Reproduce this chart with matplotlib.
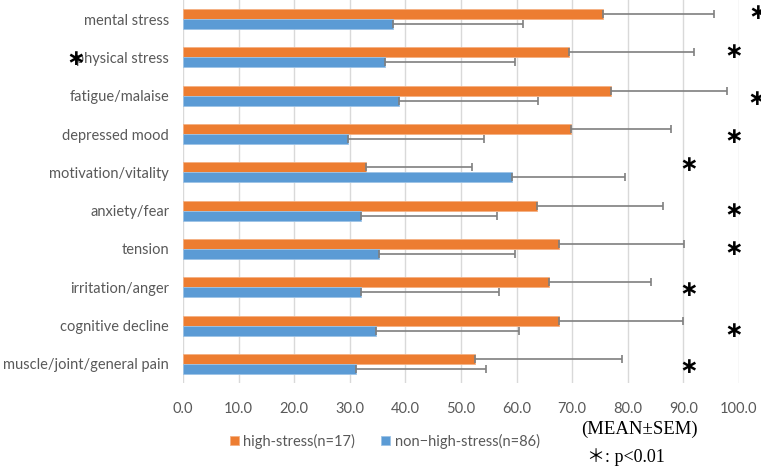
import numpy as np
import matplotlib.pyplot as plt

categories = ["mental stress", "physical stress", "fatigue/malaise", "depressed mood",
              "motivation/vitality", "anxiety/fear", "tension", "irritation/anger",
              "cognitive decline", "muscle/joint/general pain"]
high_mean = [75.5, 69.4, 76.9, 69.8, 32.9, 63.6, 67.6, 65.9, 67.6, 52.5]
high_sem = [20.1, 22.6, 21.0, 18.0, 19.1, 22.8, 22.6, 18.2, 22.4, 26.5]
non_mean = [37.7, 36.4, 38.8, 29.7, 59.2, 32.1, 35.3, 32.0, 34.7, 31.2]
non_sem = [23.4, 23.4, 25.0, 24.5, 20.3, 24.4, 24.5, 24.9, 25.7, 23.3]
xticks = np.arange(0, 101, 10)

# asterisk marks (x in data units, y offset from category centre)
star_x = [103.3, 99.0, 103.1, 99.0, 90.9, 99.0, 99.0, 90.9, 99.0, 90.9]
star_dy = [-0.17, -0.14, 0.08, 0.08, -0.18, 0.0, 0.0, 0.08, 0.13, 0.08]

plt.rcParams['font.family'] = ['Lato', 'DejaVu Sans']

fig = plt.figure(figsize=(7.61, 4.66), dpi=100)
ax = fig.add_axes([0.2405, 0.178, 0.7305, 0.822])

y = np.arange(len(categories))
h = 0.26
err_kw = dict(ecolor='#7f7f7f', elinewidth=1.2, capsize=3, capthick=1.2)
ax.barh(y - h / 2, high_mean, height=h, color='#ED7D31', edgecolor='#F4B183', linewidth=0.6,
        xerr=[np.zeros(len(y)), high_sem], error_kw=err_kw, label='high-stress(n=17)', zorder=3)
ax.barh(y + h / 2, non_mean, height=h, color='#5B9BD5', edgecolor='#9DC3E6', linewidth=0.6,
        xerr=[np.zeros(len(y)), non_sem], error_kw=err_kw, label='non\u2212high-stress(n=86)', zorder=3)

ax.set_ylim(len(categories) - 0.5, -0.5)
ax.set_xlim(0, 100)
ax.set_yticks(y)
ax.set_yticklabels(categories, fontsize=10.5, color='#595959')
ax.set_xticks(xticks)
ax.set_xticklabels(['%.1f' % v for v in xticks], fontsize=10.5, color='#595959')
ax.tick_params(length=0)
ax.tick_params(axis='x', pad=14)
ax.tick_params(axis='y', pad=10)
ax.grid(axis='x', color='#d9d9d9', linewidth=1)
ax.set_axisbelow(True)
for s in ax.spines.values():
    s.set_visible(False)

for i in range(len(categories)):
    ax.text(star_x[i], i + star_dy[i], '\u2217', fontsize=16, fontweight='bold', ha='center',
            va='center', family='DejaVu Sans', clip_on=False)
ax.text(-19.3, 1.05, '\u2217', fontsize=16, fontweight='bold', ha='center', va='center',
        family='DejaVu Sans', clip_on=False)

ax.legend(loc='center', bbox_to_anchor=(0.363, -0.152), ncol=2, frameon=False,
          fontsize=10.5, handlelength=0.6, handleheight=0.6, handletextpad=0.3,
          columnspacing=1.8, labelcolor='#595959')

fig.text(0.763, 0.079, '(MEAN\u00b1SEM)', family='Liberation Serif', fontsize=13.5, va='center')
fig.text(0.771, 0.019, '\uff0a: p<0.01', family=['Liberation Serif', 'Noto Sans CJK JP'],
         fontsize=13, va='center')

fig.savefig('out.png', dpi=100)
